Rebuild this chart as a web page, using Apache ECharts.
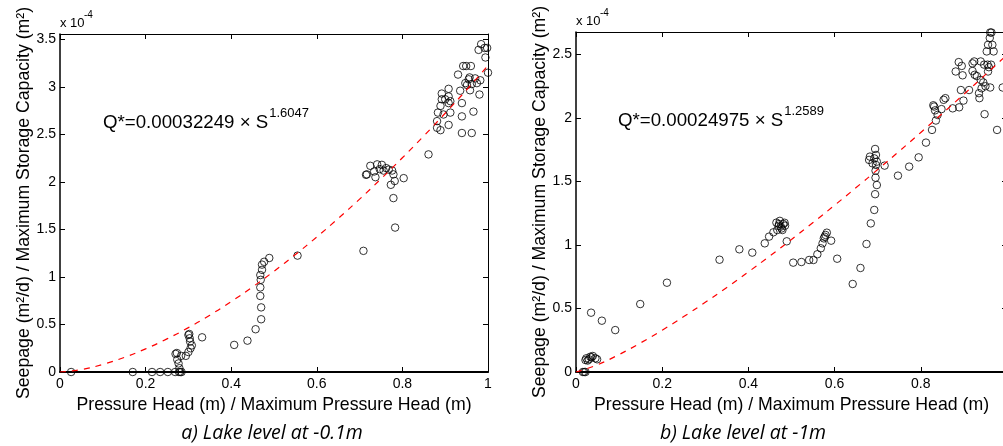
<!DOCTYPE html>
<html><head><meta charset="utf-8">
<script src="https://cdn.jsdelivr.net/npm/echarts@6/dist/echarts.min.js"></script>
<style>html,body{margin:0;padding:0;background:#fff}#c{width:1003px;height:446px}</style>
</head><body><div id="c"></div>
<script>
// Values in units of 1e-4
const xTicks = [0, 0.2, 0.4, 0.6, 0.8, 1];
const panelAPoints = [[0.026,0],[0.17,0],[0.215,0],[0.234,0],[0.252,0],[0.269,0],[0.278,0],[0.281,0],[0.284,0],[0.279,0.04],[0.277,0.09],[0.274,0.13],[0.27,0.19],[0.273,0.2],[0.283,0.17],[0.294,0.17],[0.3,0.21],[0.305,0.25],[0.308,0.28],[0.304,0.32],[0.303,0.355],[0.3,0.39],[0.302,0.4],[0.332,0.365],[0.407,0.285],[0.438,0.33],[0.457,0.45],[0.47,0.555],[0.47,0.68],[0.468,0.8],[0.468,0.89],[0.469,0.97],[0.468,1.02],[0.472,1.075],[0.472,1.13],[0.477,1.16],[0.489,1.2],[0.555,1.225],[0.709,1.275],
[0.715,2.075],[0.717,2.08],[0.725,2.17],[0.734,2.11],[0.737,2.05],[0.741,2.185],[0.747,2.135],[0.752,2.18],[0.756,2.12],[0.762,2.146],[0.768,2.13],[0.776,2.12],[0.779,2.08],[0.773,1.97],[0.782,2.01],[0.803,2.04],[0.779,1.83],[0.783,1.52],
[0.861,2.29],[0.881,2.57],[0.889,2.545],[0.881,2.64],[0.883,2.73],[0.889,2.8],[0.892,2.87],[0.892,2.93],[0.9,2.87],[0.908,2.9],[0.908,2.98],[0.908,2.83],[0.912,2.85],[0.896,2.71],[0.908,2.6],[0.912,2.73],[0.93,3.13],[0.935,2.96],[0.939,2.83],[0.939,2.69],[0.939,2.515],[0.942,3.22],[0.949,3.22],[0.947,3.04],[0.951,3.02],[0.955,3.08],[0.957,3.1],[0.958,2.965],[0.96,3.22],[0.962,3.03],[0.962,2.515],[0.966,2.74],[0.97,3.09],[0.974,3.04],[0.978,3.39],[0.98,2.92],[0.982,3.07],[0.984,3.45],[0.992,3.41],[0.994,3.31],[0.998,3.41],[1.0,3.15]];
const panelBPoints = [[0.016,0],[0.022,0],[0.019,0],[0.022,0.094],[0.027,0.09],[0.033,0.12],[0.039,0.126],[0.045,0.108],[0.049,0.1],[0.024,0.108],[0.03,0.1],[0.036,0.115],
[0.035,0.467],[0.06,0.404],[0.091,0.33],[0.149,0.535],[0.211,0.703],[0.333,0.884],[0.379,0.966],[0.409,0.94],[0.438,1.013],[0.448,1.066],[0.458,1.1],
[0.465,1.176],[0.471,1.165],[0.475,1.145],[0.481,1.165],[0.485,1.152],[0.479,1.118],[0.467,1.118],[0.473,1.19],[0.484,1.175],[0.47,1.15],[0.477,1.13],
[0.489,1.029],[0.504,0.861],[0.523,0.866],[0.541,0.882],[0.551,0.882],[0.56,0.927],[0.568,0.974],[0.572,1.013],[0.575,1.052],[0.579,1.079],[0.582,1.097],[0.577,1.065],[0.592,1.034],[0.606,0.892],
[0.642,0.693],[0.66,0.819],[0.674,1.008],[0.684,1.17],[0.692,1.276],[0.694,1.4],[0.698,1.472],[0.695,1.53],[0.695,1.585],
[0.682,1.696],[0.688,1.643],[0.692,1.682],[0.694,1.756],[0.696,1.709],[0.698,1.656],[0.696,1.63],[0.68,1.67],
[0.716,1.625],[0.747,1.546],[0.773,1.617],[0.795,1.69],[0.812,1.806],[0.826,1.906],[0.835,1.98],[0.831,2.09],[0.829,2.1],[0.833,2.06],[0.839,2.024],[0.848,2.07],[0.853,2.143],[0.857,2.156],[0.874,2.076],[0.889,2.084],
[0.881,2.366],[0.888,2.44],[0.895,2.41],[0.897,2.336],[0.893,2.22],[0.899,2.137],[0.912,2.22],[0.92,2.43],[0.924,2.445],[0.92,2.37],[0.925,2.34],[0.93,2.33],[0.939,2.445],[0.939,2.3],[0.935,2.195],[0.936,2.156],[0.941,2.234],[0.945,2.28],[0.947,2.42],[0.948,2.03],[0.95,2.25],
[0.953,2.524],[0.956,2.576],[0.961,2.673],[0.964,2.673],[0.96,2.63],[0.966,2.576],[0.969,2.524],[0.963,2.42],[0.958,2.4],[0.961,2.24],[0.955,2.42],[0.956,2.366],[0.977,1.906],[0.99,2.24]];
// fitted curves (values of the stated power-law fits, read at these heads)
const fitX = [0,0.05,0.1,0.15,0.2,0.25,0.3,0.35,0.4,0.45,0.5,0.55,0.6,0.65,0.7,0.75,0.8,0.85,0.9,0.95,1];
const fitA = [0,0.0264,0.0801,0.1536,0.2437,0.3486,0.4672,0.5982,0.7411,0.8954,1.0603,1.2356,1.4207,1.6155,1.8195,2.0326,2.2543,2.4845,2.7233,2.9701,3.2249];
const fitB = [0,0.0575,0.1376,0.2293,0.3293,0.4361,0.5486,0.6661,0.7880,0.9140,1.0436,1.1766,1.3128,1.4520,1.5940,1.7387,1.8859,2.0354,2.1873,2.3413,2.4975];
const eqA = ['Q*=0.00032249 \u00d7 S', '1.6047'];
const eqB = ['Q*=0.00024975 \u00d7 S', '1.2589'];
const captions = ['a) Lake level at -0.1m', 'b) Lake level at -1m'];
const xTitle = 'Pressure Head (m) / Maximum Pressure Head (m)';
const yTitle = 'Seepage (m\u00b2/d) / Maximum Storage Capacity (m\u00b2)';

const F = 'Liberation Sans, Arial, sans-serif';
const chart = echarts.init(document.getElementById('c'), null, {renderer:'canvas'});

function xAx(grid, top){
  return {type:'value', gridIndex:grid, position: top?'top':'bottom', min:0, max:1, interval:0.2,
    name: top?'':xTitle, nameLocation:'middle', nameGap:22,
    nameTextStyle:{fontFamily:F, fontSize:17.7, color:'#000'},
    axisLine:{show:true, onZero:false, lineStyle:{color:'#000', width: top?1:2}},
    axisTick:{show:true, inside:true, length:5, lineStyle:{color:'#000'}},
    axisLabel:{show:!top, margin:5, fontFamily:F, fontSize:14, color:'#000'},
    splitLine:{show:false}};
}
function yAx(grid, right, max){
  return {type:'value', gridIndex:grid, position: right?'right':'left', min:0, max:max, interval:0.5,
    name: right?'':yTitle, nameLocation:'middle', nameGap:27, nameRotate:90,
    nameTextStyle:{fontFamily:F, fontSize:17.7, color:'#000'},
    axisLine:{show:true, onZero:false, lineStyle:{color:'#000', width: right?1:1.5}},
    axisTick:{show:true, inside:true, length:5, lineStyle:{color:'#000'}},
    axisLabel:{show:!right, showMaxLabel:false, margin:4, fontFamily:F, fontSize:14, color:'#000'},
    splitLine:{show:false}};
}
const scatterStyle = {color:'rgba(0,0,0,0)', borderColor:'#000', borderWidth:1};
function fitData(ys){ return fitX.map((x,i)=>[x, ys[i]]); }
const eqRich = {a:{font:'18.7px '+F, fill:'#000', verticalAlign:'bottom'}, s:{font:'13px '+F, fill:'#000', verticalAlign:'top', padding:[0,0,12,1]}};

chart.setOption({
  animation:false,
  grid:[{left:60, right:515, top:34, bottom:74, outerBoundsMode:'none', containLabel:false},
        {left:576, width:431, top:32, bottom:74, outerBoundsMode:'none', containLabel:false}],
  xAxis:[xAx(0,false), xAx(0,true), xAx(1,false), xAx(1,true)],
  yAxis:[yAx(0,false,3.557), yAx(0,true,3.557), yAx(1,false,2.677), yAx(1,true,2.677)],
  series:[
    {type:'scatter', xAxisIndex:0, yAxisIndex:0, data:panelAPoints, symbol:'circle', symbolSize:7.5, itemStyle:scatterStyle},
    {type:'line', xAxisIndex:0, yAxisIndex:0, data:fitData(fitA), smooth:true, showSymbol:false, lineStyle:{color:'#ff0000', width:1.2, type:[6,6]}},
    {type:'scatter', xAxisIndex:2, yAxisIndex:2, data:panelBPoints, symbol:'circle', symbolSize:7.5, itemStyle:scatterStyle},
    {type:'line', xAxisIndex:2, yAxisIndex:2, data:fitData(fitB), smooth:true, showSymbol:false, lineStyle:{color:'#ff0000', width:1.2, type:[6,6]}}
  ],
  graphic:[
    {type:'text', left:60, top:17, style:{text:'x 10', font:'13px '+F, fill:'#000'}},
    {type:'text', left:84, top:10, style:{text:'-4', font:'10px '+F, fill:'#000'}},
    {type:'text', left:576, top:15, style:{text:'x 10', font:'13px '+F, fill:'#000'}},
    {type:'text', left:600, top:8, style:{text:'-4', font:'10px '+F, fill:'#000'}},
    {type:'text', left:103, top:107, style:{text:'{a|'+eqA[0]+'}{s|'+eqA[1]+'}', rich:eqRich}},
    {type:'text', left:618, top:105, style:{text:'{a|'+eqB[0]+'}{s|'+eqB[1]+'}', rich:eqRich}},
    {type:'text', x:272, y:433, style:{text:captions[0], font:'italic 19.5px "Open Sans", sans-serif', fill:'#000', align:'center', verticalAlign:'middle'}},
    {type:'text', x:743, y:433, style:{text:captions[1], font:'italic 19.5px "Open Sans", sans-serif', fill:'#000', align:'center', verticalAlign:'middle'}}
  ]
});
</script></body></html>
